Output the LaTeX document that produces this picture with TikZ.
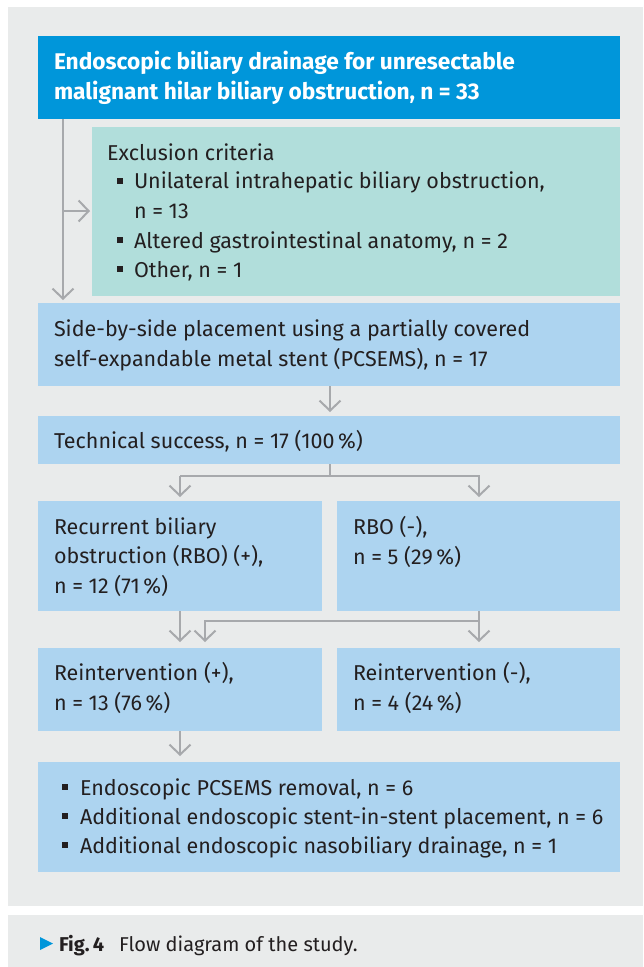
\documentclass[tikz,border=0pt]{standalone}
\usepackage{fontspec}
\setmainfont{Fira Sans}
\usetikzlibrary{arrows.meta}
\definecolor{panel}{HTML}{E9EBEB}
\definecolor{topblue}{HTML}{0096DA}
\definecolor{teal}{HTML}{B1DEDB}
\definecolor{lightblue}{HTML}{ADD4F0}
\definecolor{arrowgrey}{HTML}{A7A9AC}
\definecolor{txt}{HTML}{231F20}
\tikzset{
  box/.style={draw=none, inner sep=0pt, outer sep=0pt, anchor=north west},
  txtnode/.style={inner sep=0pt, outer sep=0pt, anchor=base west, align=left, text=txt,
    font=\fontsize{21.5}{29.5}\selectfont},
  flow/.style={draw=arrowgrey, line width=2pt, -{Straight Barb[length=10pt,width=21pt,line width=2pt]}},
  plain/.style={draw=arrowgrey, line width=2pt},
}
\newcommand{\sqb}{\rule[0.22em]{0.28em}{0.28em}}
\begin{document}
\begin{tikzpicture}[x=1pt,y=-1pt]
\useasboundingbox (0,0) rectangle (643,967);
\fill[panel] (8,7) rectangle (643,906);
\fill[panel] (8,915) rectangle (643,967);

% boxes
\node[box, fill=topblue, minimum width=582pt, minimum height=83pt] (top) at (38,36) {};
\node[box, fill=teal, minimum width=528pt, minimum height=169pt] (excl) at (92,127) {};
\node[box, fill=lightblue, minimum width=582pt, minimum height=83pt] (sbs) at (38,303) {};
\node[box, fill=lightblue, minimum width=582pt, minimum height=48pt] (tech) at (38,416) {};
\node[box, fill=lightblue, minimum width=284pt, minimum height=110pt] (rbop) at (38,501) {};
\node[box, fill=lightblue, minimum width=283pt, minimum height=110pt] (rbom) at (337,501) {};
\node[box, fill=lightblue, minimum width=284pt, minimum height=83pt] (reip) at (38,648) {};
\node[box, fill=lightblue, minimum width=283pt, minimum height=83pt] (reim) at (337,648) {};
\node[box, fill=lightblue, minimum width=582pt, minimum height=110pt] (remo) at (38,762) {};

% texts (anchor = baseline of last line)
\node[txtnode, text=white, font=\fontsize{22.7}{30}\selectfont\bfseries] (ttop) at (54,99)
  {Endoscopic biliary drainage for unresectable\\malignant hilar biliary obstruction, n = 33};
\node[txtnode] (texcl) at (107,160) {Exclusion criteria};
\node[txtnode] (texcla) at (117,189) {\sqb};
\node[txtnode] (texclb) at (134,218) {Unilateral intrahepatic biliary obstruction,\\n = 13};
\node[txtnode] (texclc) at (117,248) {\sqb};
\node[txtnode] (texcld) at (134,248) {Altered gastrointestinal anatomy, n = 2};
\node[txtnode] (texcle) at (117,277) {\sqb};
\node[txtnode] (texclf) at (134,277) {Other, n = 1};
\node[txtnode] (tsbs) at (54,366) {Side-by-side placement using a partially covered\\self-expandable metal stent (PCSEMS), n = 17};
\node[txtnode] (ttech) at (54,448) {Technical success, n = 17 (100\,\%)};
\node[txtnode] (trbop) at (54,593) {Recurrent biliary\\obstruction (RBO) (+),\\n = 12 (71\,\%)};
\node[txtnode] (trbom) at (353,564) {RBO (-),\\n = 5 (29\,\%)};
\node[txtnode] (treip) at (54,710) {Reintervention (+),\\n = 13 (76\,\%)};
\node[txtnode] (treim) at (353,710) {Reintervention (-),\\n = 4 (24\,\%)};
\node[txtnode] (tremoa) at (62,795) {\sqb};
\node[txtnode] (tremob) at (80,795) {Endoscopic PCSEMS removal, n = 6};
\node[txtnode] (tremoc) at (62,824) {\sqb};
\node[txtnode] (tremod) at (80,824) {Additional endoscopic stent-in-stent placement, n = 6};
\node[txtnode] (tremoe) at (62,853) {\sqb};
\node[txtnode] (tremof) at (80,853) {Additional endoscopic nasobiliary drainage, n = 1};

% caption
\fill[topblue] (40,937) -- (53,943.5) -- (40,950) -- cycle;
\node[txtnode, font=\fontsize{20}{24}\selectfont] (capa) at (59,951) {\textbf{Fig.\,4}};
\node[txtnode, font=\fontsize{20}{24}\selectfont] (capb) at (119,951) {Flow diagram of the study.};

% connectors
\coordinate (c1) at (63,211);
\draw[flow, shorten >=3pt] (top.south west -| c1) -- (sbs.north west -| c1);
\draw[flow, shorten >=2pt] (c1) -- (excl.west |- c1);
\draw[flow, shorten >=4pt] (sbs.south west -| 330,0) -- (tech.north west -| 330,0);
\coordinate (b1) at (330,476);
\draw[plain] (tech.south west -| b1) -- (b1);
\draw[flow, shorten >=4pt] (180,476) -| (rbop.north west -| 180,0);
\draw[flow, shorten >=4pt] (180,476) -- (479,476) -- (rbom.north west -| 479,0);
\draw[flow, shorten >=6pt] (rbop.south west -| 180,0) -- (reip.north west -| 180,0);
\coordinate (b2) at (479,621);
\draw[plain] (rbom.south west -| b2) -- (b2);
\draw[flow, shorten >=6pt] (b2) -- (205,621) -- (reip.north west -| 205,0);
\draw[flow, shorten >=6pt] (b2) -- (reim.north west -| b2);
\draw[flow, shorten >=6pt] (reip.south west -| 180,0) -- (remo.north west -| 180,0);
\end{tikzpicture}
\end{document}
